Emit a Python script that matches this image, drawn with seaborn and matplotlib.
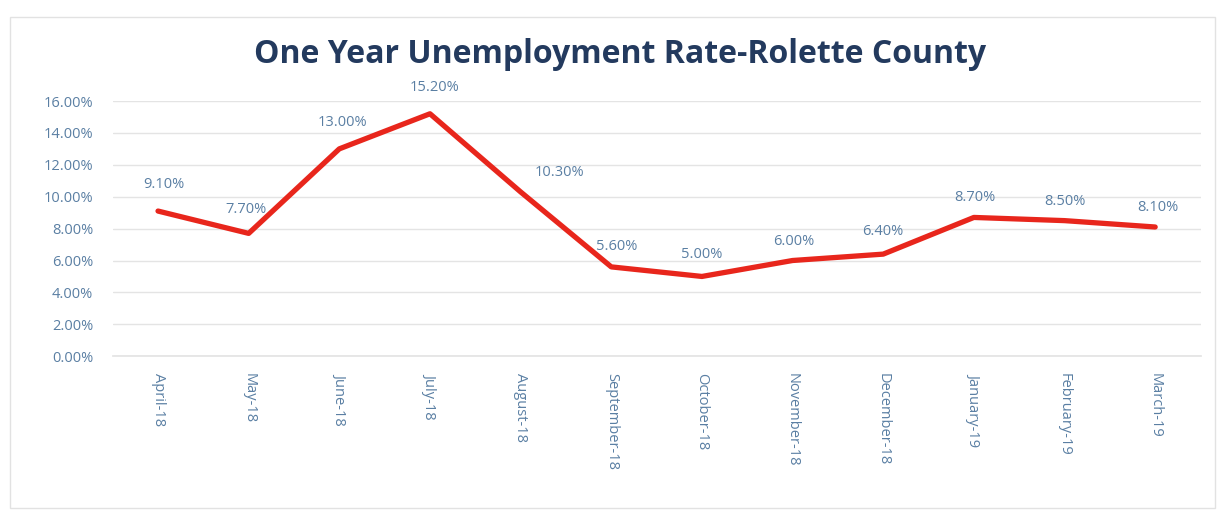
import matplotlib
matplotlib.use("Agg")
import matplotlib.pyplot as plt
from matplotlib.patches import Rectangle
import seaborn as sns
import pandas as pd

months = ["April-18", "May-18", "June-18", "July-18", "August-18", "September-18",
          "October-18", "November-18", "December-18", "January-19", "February-19", "March-19"]
rates = [9.10, 7.70, 13.00, 15.20, 10.30, 5.60, 5.00, 6.00, 6.40, 8.70, 8.50, 8.10]
y_ticks = [0, 2, 4, 6, 8, 10, 12, 14, 16]

# label centre offsets in points (dx, dy) relative to each point
label_offsets = [(4, 19), (-2, 17), (2, 19), (3, 19), (28, 14), (4, 15),
                 (0, 16), (1, 14), (0, 16), (1, 14), (0, 14), (2, 14)]

df = pd.DataFrame({"month": months, "rate": rates})

sns.set_theme(style="white")
plt.rcParams["font.family"] = ["Open Sans", "DejaVu Sans"]

fig = plt.figure(figsize=(12.25, 5.14), dpi=100)
ax = fig.add_axes([0.092, 0.307, 0.888, 0.4965])

sns.lineplot(data=df, x="month", y="rate", sort=False, color="#e8261c",
             linewidth=3.8, ax=ax)

tick_color = "#5a7fa3"
ax.set_ylim(0, 16)
ax.set_xlim(-0.5, len(months) - 0.5)
ax.set_yticks(y_ticks)
ax.set_yticklabels([f"{v:.2f}%" for v in y_ticks], color=tick_color, fontsize=10.5)
ax.set_xticks(range(len(months)))
ax.set_xticklabels(months, rotation=270, color=tick_color, fontsize=10.5, va="top")
ax.tick_params(axis="both", length=0, pad=12)
ax.tick_params(axis="y", pad=14)
ax.yaxis.grid(True, color="#e4e4e4", linewidth=1)
ax.xaxis.grid(False)
for side in ["top", "right", "left"]:
    ax.spines[side].set_visible(False)
ax.spines["bottom"].set_color("#e4e4e4")
ax.set_xlabel("")
ax.set_ylabel("")

for i, (v, (dx, dy)) in enumerate(zip(rates, label_offsets)):
    ax.annotate(f"{v:.2f}%", (i, v), xytext=(dx, dy), textcoords="offset points",
                ha="center", va="center", color=tick_color, fontsize=10.5)

fig.text(0.506, 0.893, "One Year Unemployment Rate-Rolette County", ha="center",
         va="center", fontsize=23, fontweight="bold", color="#233a5e")

fig.patches.append(Rectangle((0.008, 0.012), 0.984, 0.955, transform=fig.transFigure,
                             fill=False, edgecolor="#e2e2e2", linewidth=1))

fig.savefig("out.png", dpi=100, facecolor="white")
